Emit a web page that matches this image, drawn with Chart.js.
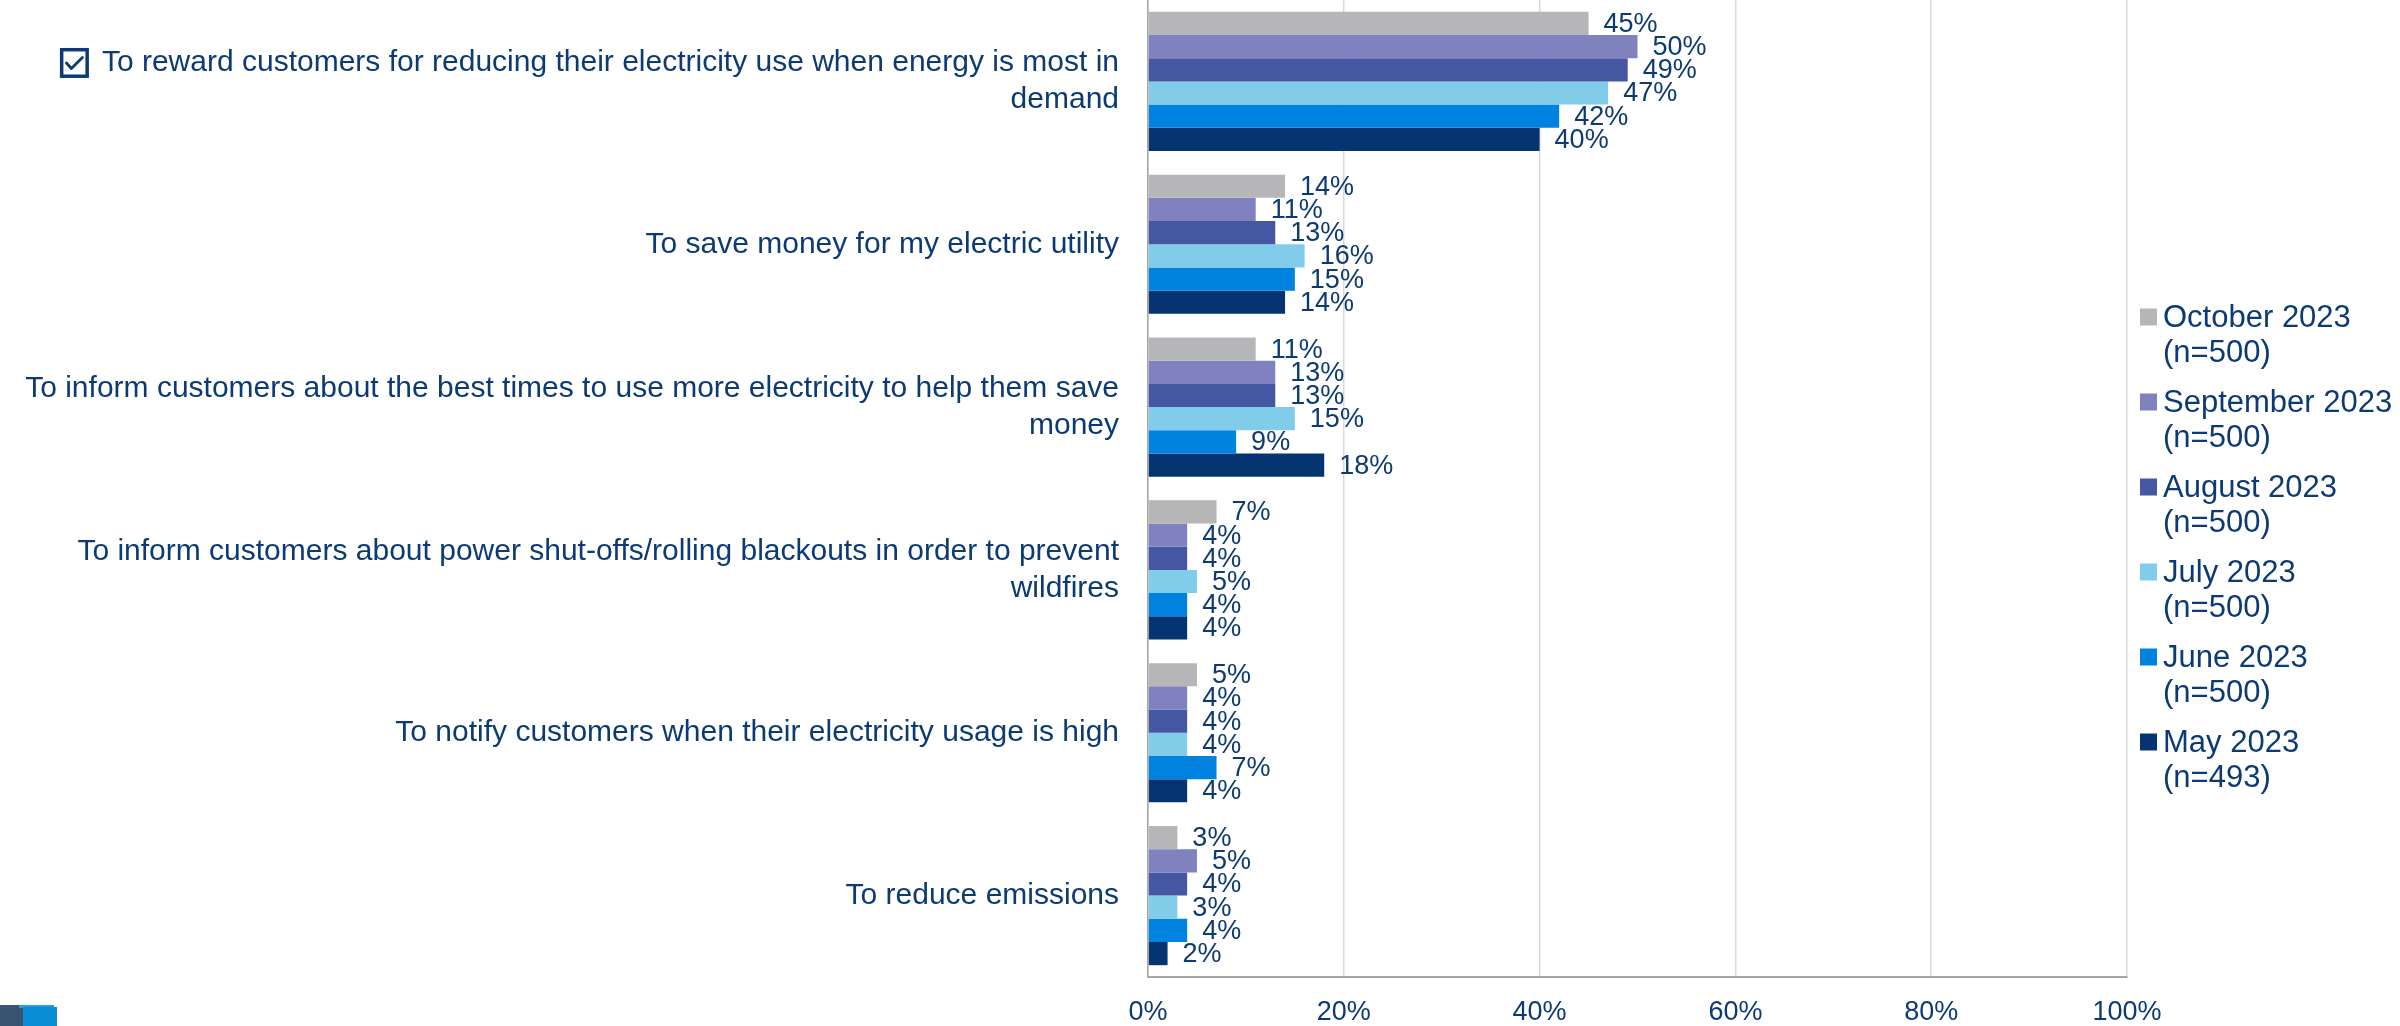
<!DOCTYPE html>
<html>
<head>
<meta charset="utf-8">
<title>Reasons for the program</title>
<script src="https://cdn.jsdelivr.net/npm/chart.js@4.4.1/dist/chart.umd.min.js"></script>
<style>
  html, body { margin: 0; padding: 0; background: #ffffff; }
  #wrap { width: 2400px; height: 1026px; position: relative; }
</style>
</head>
<body>
<div id="wrap"><canvas id="chart" width="2400" height="1026"></canvas></div>
<script>
// ---- data ----
const categories = [
  ["To reward customers for reducing their electricity use when energy is most in", "demand"],
  "To save money for my electric utility",
  ["To inform customers about the best times to use more electricity to help them save", "money"],
  ["To inform customers about power shut-offs/rolling blackouts in order to prevent", "wildfires"],
  "To notify customers when their electricity usage is high",
  "To reduce emissions"
];
const waves = ["October 2023", "September 2023", "August 2023", "July 2023", "June 2023", "May 2023"];
const sampleSizes = ["(n=500)", "(n=500)", "(n=500)", "(n=500)", "(n=500)", "(n=493)"];
const october   = [45, 14, 11, 7, 5, 3];
const september = [50, 11, 13, 4, 4, 5];
const august    = [49, 13, 13, 4, 4, 4];
const july      = [47, 16, 15, 5, 4, 3];
const june      = [42, 15,  9, 4, 7, 4];
const may       = [40, 14, 18, 4, 4, 2];
const xTicks = [0, 20, 40, 60, 80, 100];
const checkedCategory = 0; // the ticked statement

// ---- styling ----
const FONT = '"Liberation Sans", Arial, Helvetica, sans-serif';
const NAVY = '#0c3a74';
const seriesColors = ['#b6b6b8', '#7f82bf', '#4556a2', '#80cce9', '#0082e1', '#063470'];
const seriesValues = [october, september, august, july, june, may];

Chart.defaults.font.family = FONT;
Chart.defaults.color = NAVY;

// value labels to the right of each bar
const valueLabels = {
  id: 'valueLabels',
  afterDatasetsDraw(chart) {
    const ctx = chart.ctx;
    ctx.save();
    ctx.font = '27px ' + FONT;
    ctx.fillStyle = NAVY;
    ctx.textAlign = 'left';
    ctx.textBaseline = 'middle';
    chart.data.datasets.forEach((ds, i) => {
      chart.getDatasetMeta(i).data.forEach((bar, j) => {
        ctx.fillText(ds.data[j] + '%', bar.x + 15, bar.y + 1);
      });
    });
    ctx.restore();
  }
};

// legend on the right, two lines per wave
const sideLegend = {
  id: 'sideLegend',
  afterDraw(chart) {
    const ctx = chart.ctx;
    const x0 = chart.chartArea.right + 13;
    let y = 317;
    ctx.save();
    ctx.font = '31px ' + FONT;
    ctx.textAlign = 'left';
    ctx.textBaseline = 'middle';
    chart.data.datasets.forEach((ds, i) => {
      ctx.fillStyle = ds.backgroundColor;
      ctx.fillRect(x0, y - 8.5, 17, 17);
      ctx.fillStyle = NAVY;
      ctx.fillText(waves[i], x0 + 23, y + 1);
      ctx.fillText(sampleSizes[i], x0 + 23, y + 36);
      y += 85;
    });
    ctx.restore();
  }
};

// checkbox before the ticked statement, plus the corner mark
const decorations = {
  id: 'decorations',
  afterDraw(chart) {
    const ctx = chart.ctx;
    const ys = chart.scales.y;
    const lines = categories[checkedCategory];
    const first = Array.isArray(lines) ? lines[0] : lines;
    const n = Array.isArray(lines) ? lines.length : 1;
    const lh = ys.options.ticks.font.size * ys.options.ticks.font.lineHeight;
    const cy = ys.getPixelForTick(checkedCategory) - (n - 1) * lh / 2;
    ctx.save();
    ctx.font = ys.options.ticks.font.size + 'px ' + FONT;
    const textRight = ys.right - ys.options.ticks.padding;
    const textLeft = textRight - ctx.measureText(first).width;
    const bx = textLeft - 42, by = cy - 15, bw = 29, bh = 30;
    ctx.strokeStyle = NAVY;
    ctx.lineWidth = 3.5;
    ctx.strokeRect(bx + 1.75, by + 1.75, bw - 3.5, bh - 3.5);
    ctx.lineWidth = 2.8;
    ctx.lineCap = 'round';
    ctx.lineJoin = 'round';
    ctx.beginPath();
    ctx.moveTo(bx + 6.5, by + 15);
    ctx.lineTo(bx + 11.5, by + 20.5);
    ctx.lineTo(bx + 22.5, by + 9.5);
    ctx.stroke();

    // corner mark
    ctx.fillStyle = '#3a5373';
    ctx.fillRect(0, 1005, 23, 21);
    ctx.fillStyle = '#2a9bdc';
    ctx.fillRect(19, 1005, 35, 3);
    ctx.fillStyle = '#0b8dd6';
    ctx.fillRect(23, 1007, 34, 19);
    ctx.restore();
  }
};

function noOverflowPadding(scale) {
  scale.paddingTop = 0;
  scale.paddingBottom = 0;
  scale.paddingLeft = 0;
  scale.paddingRight = 0;
}

new Chart(document.getElementById('chart'), {
  type: 'bar',
  data: {
    labels: categories,
    datasets: waves.map((w, i) => ({
      label: w + ' ' + sampleSizes[i],
      data: seriesValues[i],
      backgroundColor: seriesColors[i],
      borderWidth: 0,
      barPercentage: 1,
      categoryPercentage: 0.855
    }))
  },
  options: {
    indexAxis: 'y',
    responsive: false,
    animation: false,
    devicePixelRatio: 1,
    layout: { padding: { left: 0, right: 273, top: 0, bottom: 0 } },
    plugins: {
      legend: { display: false },
      tooltip: { enabled: false },
      title: { display: false }
    },
    scales: {
      x: {
        min: 0,
        max: 100,
        afterBuildTicks(scale) { scale.ticks = xTicks.map(v => ({ value: v })); },
        grid: { color: '#d9d9d9', lineWidth: 1.5, drawTicks: false },
        border: { color: '#a6a6a6', width: 2 },
        ticks: {
          color: NAVY,
          font: { size: 27 },
          padding: 19,
          maxRotation: 0,
          callback: v => v + '%'
        },
        afterFit(scale) { scale.height = 49; noOverflowPadding(scale); }
      },
      y: {
        grid: { color: 'rgba(0,0,0,0)', drawTicks: false },
        border: { color: '#a6a6a6', width: 1.5 },
        ticks: {
          color: NAVY,
          font: { size: 30, lineHeight: 1.23 },
          padding: 29,
          autoSkip: false
        },
        afterFit(scale) { scale.width = 1148; noOverflowPadding(scale); }
      }
    }
  },
  plugins: [valueLabels, sideLegend, decorations]
});
</script>
</body>
</html>
